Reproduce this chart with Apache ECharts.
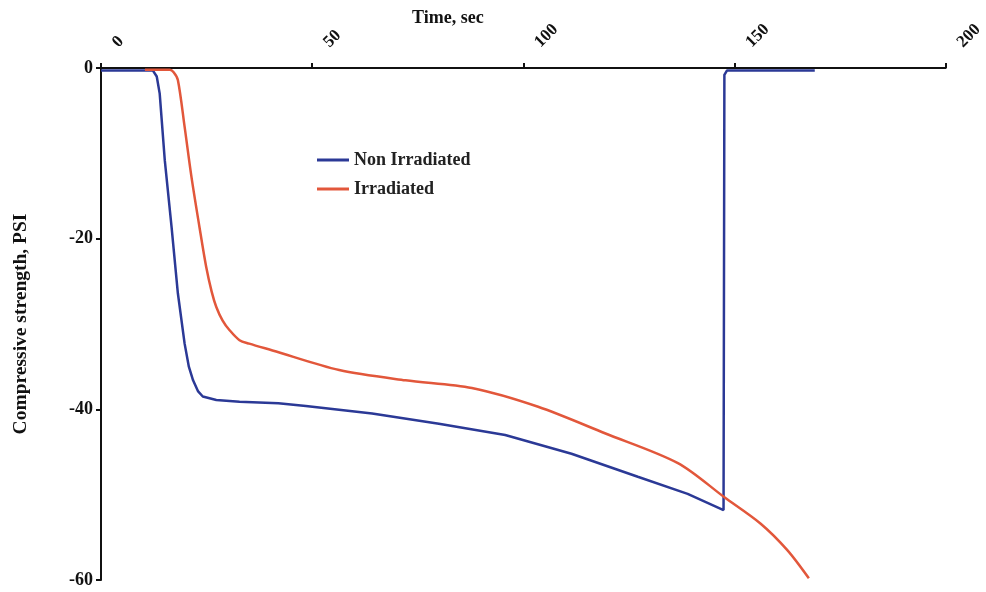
<!DOCTYPE html>
<html>
<head>
<meta charset="utf-8">
<script src="https://cdn.jsdelivr.net/npm/echarts@6/dist/echarts.min.js"></script>
<style>
html,body{margin:0;padding:0;background:#fff;}
#chart{width:986px;height:592px;}
</style>
</head>
<body>
<div id="chart"></div>
<script>
// Data
const seriesNames = ['Non Irradiated', 'Irradiated'];
const xTicks = [0, 50, 100, 150, 200];
const yTicks = [0, -20, -40, -60];

const nonIrrTime = [0, 12.3, 13.2, 13.9, 15.1, 16.7, 18.2, 19.8, 20.8, 21.8, 23.0, 24.1, 27.3, 32.8, 42.0, 48.5, 64.2, 80.0, 95.7, 111.4, 127.1, 138.9, 147.4, 147.6, 148.2, 169.0];
const nonIrrStrength = [-0.3, -0.3, -1.0, -3.0, -10.8, -18.6, -26.4, -32.3, -35.0, -36.6, -37.9, -38.5, -38.9, -39.1, -39.3, -39.6, -40.5, -41.7, -43.0, -45.2, -47.9, -49.9, -51.8, -0.8, -0.3, -0.3];

const irrTime = [10.4, 16.3, 17.2, 18.2, 19.8, 21.4, 23.3, 24.9, 26.2, 27.3, 28.8, 30.4, 32.8, 35.1, 40.6, 56.4, 72.1, 87.8, 103.5, 119.3, 136.6, 147.6, 156.2, 162.5, 167.6];
const irrStrength = [-0.2, -0.2, -0.5, -1.4, -6.9, -12.7, -18.6, -23.3, -26.2, -28.0, -29.6, -30.7, -31.9, -32.3, -33.1, -35.4, -36.6, -37.5, -39.7, -42.8, -46.3, -50.3, -53.4, -56.5, -59.8];

const nonIrrData = nonIrrTime.map((t, i) => [t, nonIrrStrength[i]]);
const irrData = irrTime.map((t, i) => [t, irrStrength[i]]);

const FONT = '"Liberation Serif", "Times New Roman", serif';
const chart = echarts.init(document.getElementById('chart'), null, {renderer: 'canvas'});
chart.setOption({
  animation: false,
  backgroundColor: '#fff',
  grid: {left: 101, right: 39, top: 68, bottom: 12, containLabel: false},
  graphic: [{
    type: 'text', left: 412, top: 9,
    style: {text: 'Time, sec', font: 'bold 18px ' + FONT, fill: '#111'}
  }],
  legend: {
    data: seriesNames,
    orient: 'vertical',
    left: 312, top: 146,
    icon: 'rect',
    itemWidth: 32, itemHeight: 3,
    itemGap: 11,
    textStyle: {fontFamily: FONT, fontWeight: 'bold', fontSize: 18, color: '#222'}
  },
  xAxis: {
    type: 'value', position: 'top',
    min: xTicks[0], max: xTicks[xTicks.length - 1], interval: 50,
    axisLine: {show: true, onZero: false, lineStyle: {color: '#111', width: 2}},
    axisTick: {show: true, length: 5, lineStyle: {color: '#111', width: 2}},
    axisLabel: {rotate: -45, margin: 9, padding: [0, 0, 0, 20], fontFamily: FONT, fontWeight: 'bold', fontSize: 17, color: '#111'},
    splitLine: {show: false}
  },
  yAxis: {
    type: 'value',
    min: yTicks[yTicks.length - 1], max: yTicks[0], interval: 20,
    name: 'Compressive strength, PSI',
    nameLocation: 'middle', nameGap: 70, nameRotate: 90,
    nameTextStyle: {fontFamily: FONT, fontWeight: 'bold', fontSize: 19.5, color: '#111'},
    axisLine: {show: true, onZero: false, lineStyle: {color: '#111', width: 2}},
    axisTick: {show: true, length: 5, lineStyle: {color: '#111', width: 2}},
    axisLabel: {margin: 8, fontFamily: FONT, fontWeight: 'bold', fontSize: 18, color: '#111'},
    splitLine: {show: false}
  },
  series: [
    {
      name: seriesNames[0], type: 'line', data: nonIrrData,
      showSymbol: false, smooth: false,
      lineStyle: {color: '#2b3996', width: 2.5},
      itemStyle: {color: '#2b3996'}, z: 2
    },
    {
      name: seriesNames[1], type: 'line', data: irrData,
      showSymbol: false, smooth: 0.3,
      lineStyle: {color: '#e2573b', width: 2.5},
      itemStyle: {color: '#e2573b'}, z: 3
    }
  ]
});
</script>
</body>
</html>
